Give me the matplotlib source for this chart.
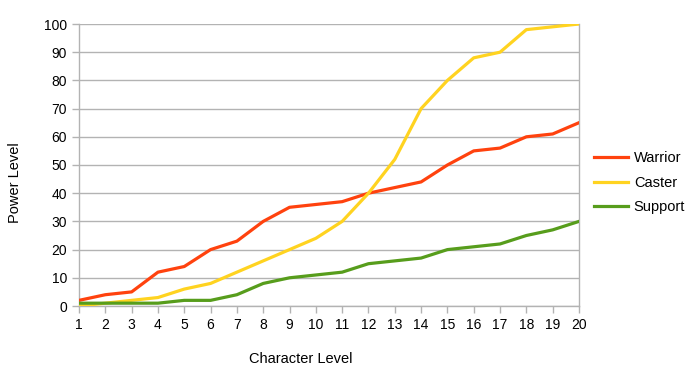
import matplotlib
matplotlib.use("Agg")
import matplotlib.pyplot as plt

plt.rcParams['font.family'] = ['Liberation Sans', 'DejaVu Sans']

levels = list(range(1, 21))
warrior = [2, 4, 5, 12, 14, 20, 23, 30, 35, 36, 37, 40, 42, 44, 50, 55, 56, 60, 61, 65]
caster = [0, 1, 2, 3, 6, 8, 12, 16, 20, 24, 30, 40, 52, 70, 80, 88, 90, 98, 99, 100]
support = [1, 1, 1, 1, 2, 2, 4, 8, 10, 11, 12, 15, 16, 17, 20, 21, 22, 25, 27, 30]
y_ticks = list(range(0, 101, 10))

fig = plt.figure(figsize=(6.96, 3.72), dpi=100)
ax = fig.add_axes([79/696, 1-306/372, 500/696, 282/372])

grid_c = '#b3b3b3'
ax.plot(levels, warrior, color='#ff420e', lw=2.3, label='Warrior', zorder=3)
ax.plot(levels, caster, color='#ffd320', lw=2.3, label='Caster', zorder=3)
ax.plot(levels, support, color='#579d1c', lw=2.3, label='Support', zorder=3)

ax.set_xlim(1, 20)
ax.set_ylim(0, 100)
ax.set_xticks(levels)
ax.set_yticks(y_ticks)
ax.yaxis.grid(True, color=grid_c, lw=1)
ax.set_axisbelow(True)
for s in ax.spines.values():
    s.set_color(grid_c)
    s.set_linewidth(1)
ax.spines['top'].set_visible(False)
ax.tick_params(axis='both', colors=grid_c, labelcolor='black', labelsize=10,
               length=5, width=1, direction='out', pad=3.6)

fig.text(301/696, 1-359/372, 'Character Level', fontsize=10.5,
         ha='center', va='center')
fig.text(15/696, 1-183/372, 'Power Level', fontsize=10.5, rotation=90,
         ha='center', va='center')

leg = ax.legend(loc='center left', bbox_to_anchor=((594-79)/500, (306-183)/282),
                frameon=False, borderpad=0, borderaxespad=0,
                fontsize=10.5, handlelength=2.33, handletextpad=0.4,
                labelspacing=0.72)

fig.savefig('out.png', dpi=100)
